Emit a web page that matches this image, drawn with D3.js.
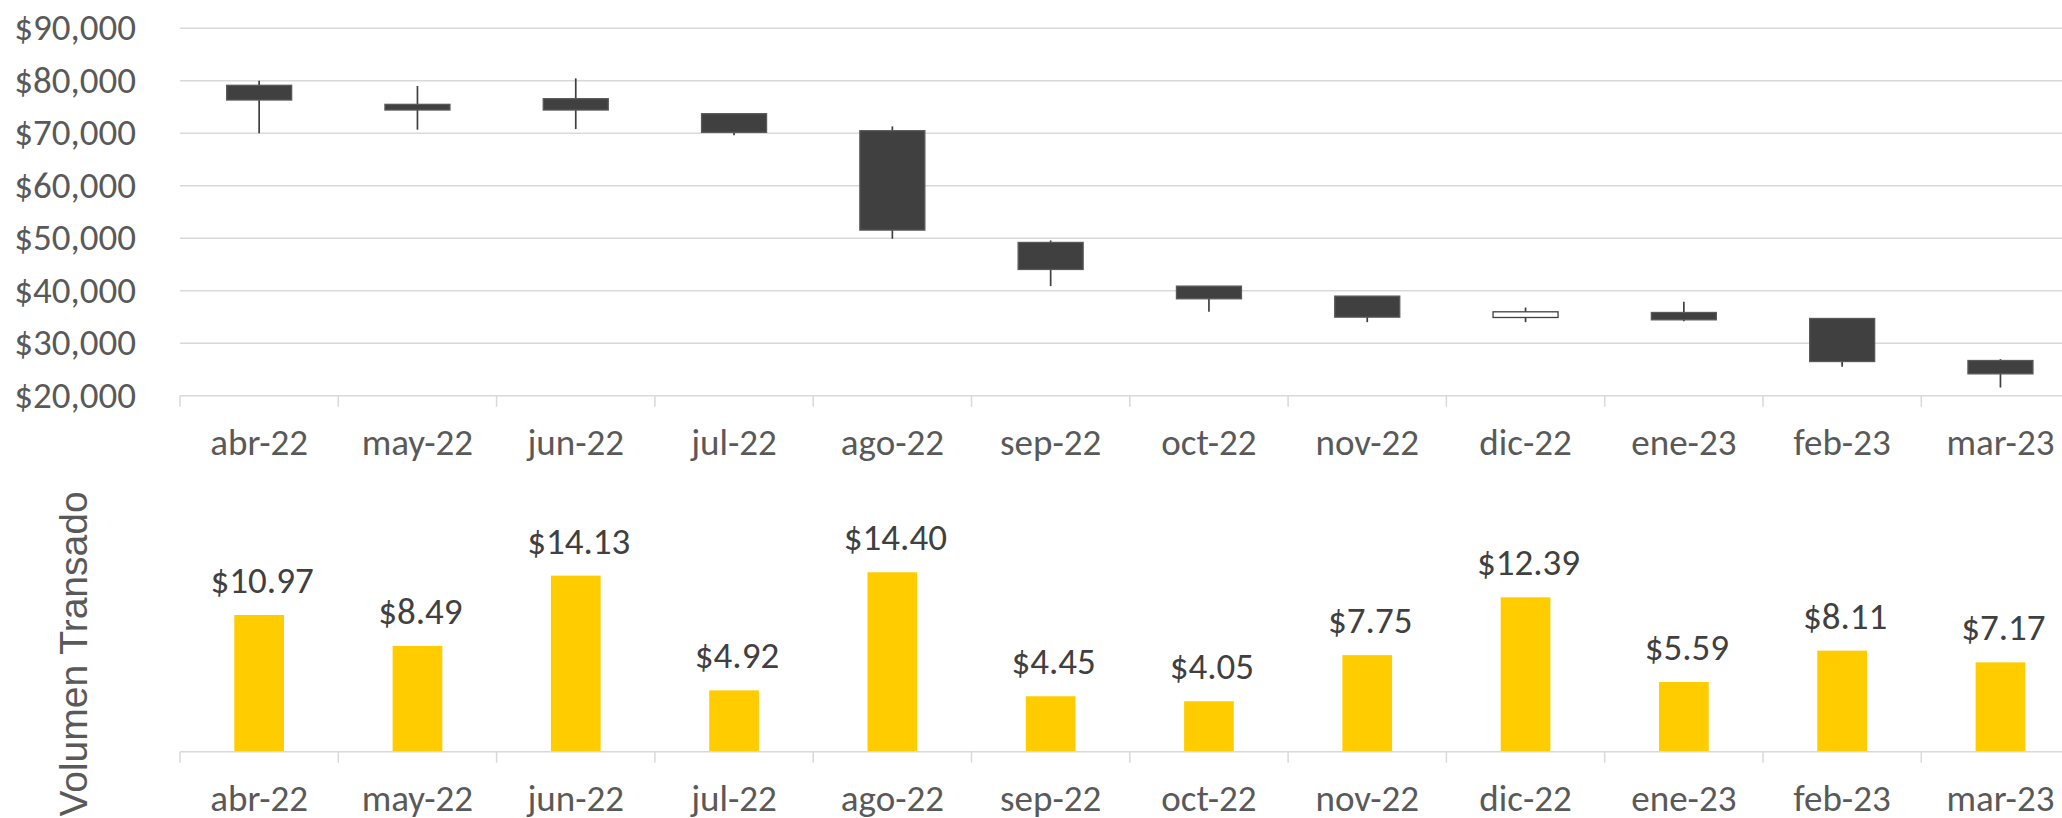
<!DOCTYPE html>
<html>
<head>
<meta charset="utf-8">
<script src="https://cdn.jsdelivr.net/npm/d3@7"></script>
<style>
  html, body { margin: 0; padding: 0; background: #ffffff; overflow: hidden; }
  svg { display: block; }
</style>
</head>
<body>
<div id="chart"></div>
<script>
// ---- Data ----
const categories = ["abr-22","may-22","jun-22","jul-22","ago-22","sep-22","oct-22","nov-22","dic-22","ene-23","feb-23","mar-23"];
const openVals  = [79143, 75515, 76595, 73736, 70496, 49212, 40889, 38983, 34917, 35870, 34727, 26721];
const highVals  = [80000, 79009, 80470, 73736, 71321, 49593, 40889, 38983, 36823, 37903, 34727, 26975];
const lowVals   = [70000, 70686, 70813, 69606, 49911, 40889, 35997, 34028, 34028, 34219, 25514, 21576];
const closeVals = [76343, 74435, 74435, 70178, 51563, 44066, 38475, 34981, 35997, 34473, 26530, 24180];
const volumeVals = [10.97, 8.49, 14.13, 4.92, 14.40, 4.45, 4.05, 7.75, 12.39, 5.59, 8.11, 7.17];
const priceTicks = [20000, 30000, 40000, 50000, 60000, 70000, 80000, 90000];
const volumeTitle = "Volumen Transado";

// ---- Layout ----
const W = 2062, H = 818;
const plotLeft = 180, band = 158.3;
const plotRight = plotLeft + band * categories.length;
const priceTop = 28.3, priceBottom = 395.8;
const volBase = 751.7, volUnit = 12.46;

const txtColor = "#595959";
const gridColor = "#d9d9d9";
const candleColor = "#404040";
const barColor = "#FFCC00";
const font = "Carlito, Calibri, Lato, sans-serif";
const fontSize = "37px";

const svg = d3.select("#chart").append("svg").attr("width", W).attr("height", H);

const x = d3.scaleBand().domain(categories).range([plotLeft, plotRight]).paddingInner(0).paddingOuter(0);
const yP = d3.scaleLinear().domain([20000, 90000]).range([priceBottom, priceTop]);
const yV = d3.scaleLinear().domain([0, 16]).range([volBase, volBase - 16 * volUnit]);

const fmtPrice = v => "$" + d3.format(",")(v);

// ---- Price panel gridlines ----
svg.append("g").selectAll("line").data(priceTicks.slice(1)).join("line")
  .attr("x1", plotLeft).attr("x2", plotRight)
  .attr("y1", d => yP(d)).attr("y2", d => yP(d))
  .attr("stroke", gridColor).attr("stroke-width", 1.5);

// y-axis labels
const yAxis = d3.axisLeft(yP).tickValues(priceTicks).tickFormat(fmtPrice).tickSize(0).tickPadding(44);
const gy = svg.append("g").attr("transform", `translate(${plotLeft},0)`).call(yAxis);
gy.select(".domain").remove();
gy.selectAll("text").attr("fill", txtColor).style("font-family", font).style("font-size", fontSize).attr("dy", "0.31em");

// category axis
function catAxis(yPos, labelOffset) {
  const axis = d3.axisBottom(x).tickSize(0).tickFormat(d => d);
  const g = svg.append("g").attr("transform", `translate(0,${yPos})`).call(axis);
  g.select(".domain").remove();
  g.selectAll(".tick line").remove();
  g.selectAll("text").attr("fill", txtColor).style("font-family", font).style("font-size", fontSize)
    .attr("y", labelOffset).attr("dy", 0);
  svg.append("line").attr("x1", plotLeft).attr("x2", plotRight).attr("y1", yPos).attr("y2", yPos)
    .attr("stroke", gridColor).attr("stroke-width", 1.5);
  const bounds = categories.map(c => x(c)).concat([plotRight]);
  svg.append("g").selectAll("line").data(bounds).join("line")
    .attr("x1", d => d).attr("x2", d => d).attr("y1", yPos).attr("y2", yPos + 11)
    .attr("stroke", gridColor).attr("stroke-width", 1.5);
}
catAxis(priceBottom, 59);

// ---- Candles ----
const bodyW = 65;
const candles = categories.map((c, i) => ({c, o: openVals[i], h: highVals[i], l: lowVals[i], cl: closeVals[i]}));
const cg = svg.append("g");
cg.selectAll("line.wick").data(candles).join("line").attr("class", "wick")
  .attr("x1", d => x(d.c) + band / 2).attr("x2", d => x(d.c) + band / 2)
  .attr("y1", d => yP(d.h)).attr("y2", d => yP(d.l))
  .attr("stroke", candleColor).attr("stroke-width", 1.7);
cg.selectAll("rect.body").data(candles).join("rect").attr("class", "body")
  .attr("x", d => x(d.c) + band / 2 - bodyW / 2)
  .attr("width", bodyW)
  .attr("y", d => yP(Math.max(d.o, d.cl)))
  .attr("height", d => Math.max(1, Math.abs(yP(d.o) - yP(d.cl))))
  .attr("fill", d => d.cl > d.o ? "#ffffff" : candleColor)
  .attr("stroke", d => d.cl > d.o ? candleColor : "#595959")
  .attr("stroke-width", 1.3);

// ---- Volume panel ----
const barW = 49.7;
svg.append("g").selectAll("rect").data(categories).join("rect")
  .attr("x", c => x(c) + band / 2 - barW / 2)
  .attr("width", barW)
  .attr("y", (c, i) => yV(volumeVals[i]))
  .attr("height", (c, i) => yV(0) - yV(volumeVals[i]))
  .attr("fill", barColor);

svg.append("g").selectAll("text").data(categories).join("text")
  .attr("x", c => x(c) + band / 2 + 3)
  .attr("y", (c, i) => yV(volumeVals[i]) - 22)
  .attr("text-anchor", "middle")
  .attr("fill", "#404040")
  .style("font-family", font).style("font-size", fontSize)
  .text((c, i) => "$" + d3.format(".2f")(volumeVals[i]));

catAxis(volBase, 59);

// rotated title
svg.append("text")
  .attr("transform", `translate(87,654) rotate(-90)`)
  .attr("text-anchor", "middle")
  .attr("fill", txtColor)
  .style("font-family", "'Liberation Sans', Arial, sans-serif")
  .style("font-size", "39px")
  .text(volumeTitle);
</script>
</body>
</html>
